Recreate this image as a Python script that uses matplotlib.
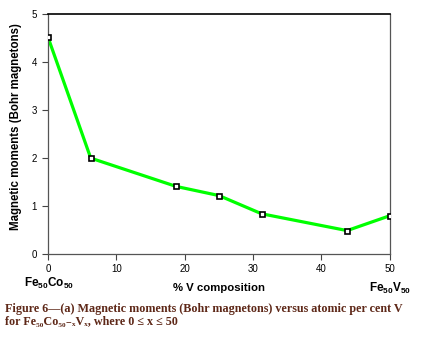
import matplotlib.pyplot as plt

plt.rcParams['mathtext.default'] = 'regular'
plt.rcParams['mathtext.fontset'] = 'custom'
plt.rcParams['mathtext.rm'] = 'Liberation Sans:bold'

# % V composition and magnetic moment (Bohr magnetons)
v_pct = [0, 6.25, 18.75, 25, 31.25, 43.75, 50]
moment = [4.52, 2.0, 1.41, 1.22, 0.84, 0.49, 0.80]
x_ticks = [0, 10, 20, 30, 40, 50]
y_ticks = [0, 1, 2, 3, 4, 5]

fig = plt.figure(figsize=(4.21, 3.37), dpi=100)
ax = fig.add_axes([0.114, 0.246, 0.812, 0.712])

ax.plot(v_pct, moment, color='#00ff00', lw=2.3, zorder=2)
ax.plot(v_pct, moment, ls='none', marker='s', ms=3.6, mfc='white',
        mec='black', mew=1.2, zorder=3)

ax.set_xlim(0, 50)
ax.set_ylim(0, 5)
ax.set_xticks(x_ticks)
ax.set_yticks(y_ticks)
ax.tick_params(labelsize=7, length=4, width=0.8, color='#444444')
ax.tick_params(axis='x', pad=3)
ax.tick_params(axis='y', pad=4)
for lab in ax.get_xticklabels() + ax.get_yticklabels():
    lab.set_family('Liberation Sans')

ax.spines['top'].set_color('black')
ax.spines['top'].set_linewidth(1.2)
for s in ['left', 'bottom', 'right']:
    ax.spines[s].set_color('#555555')
    ax.spines[s].set_linewidth(0.9)

ax.set_ylabel('Magnetic moments (Bohr magnetons)', fontsize=8.3,
              fontweight='bold', family='Liberation Sans')
ax.yaxis.set_label_coords(-0.076, 0.533)

fig.text(0.52, 0.145, '% V composition', fontsize=8.2, fontweight='bold',
         family='Liberation Sans', ha='center', va='center')
fig.text(0.116, 0.158, r'Fe$_{50}$Co$_{50}$', fontsize=8.5, fontweight='bold',
         family='Liberation Sans', ha='center', va='center')
fig.text(0.926, 0.145, r'Fe$_{50}$V$_{50}$', fontsize=8.5, fontweight='bold',
         family='Liberation Sans', ha='center', va='center')

cap_color = '#5e2818'
fig.text(0.012, 0.083,
         'Figure 6\u2014(a) Magnetic moments (Bohr magnetons) versus atomic per cent V',
         fontsize=8.7, fontweight='bold', family='Liberation Serif',
         color=cap_color, va='center')
fig.text(0.012, 0.045,
         'for Fe\u2085\u2080Co\u2085\u2080\u208b\u2093V\u2093, where 0 \u2264 x \u2264 50',
         fontsize=8.7, fontweight='bold', family=['Liberation Serif', 'DejaVu Serif'],
         color=cap_color, va='center')

fig.savefig('out.png', dpi=100)
